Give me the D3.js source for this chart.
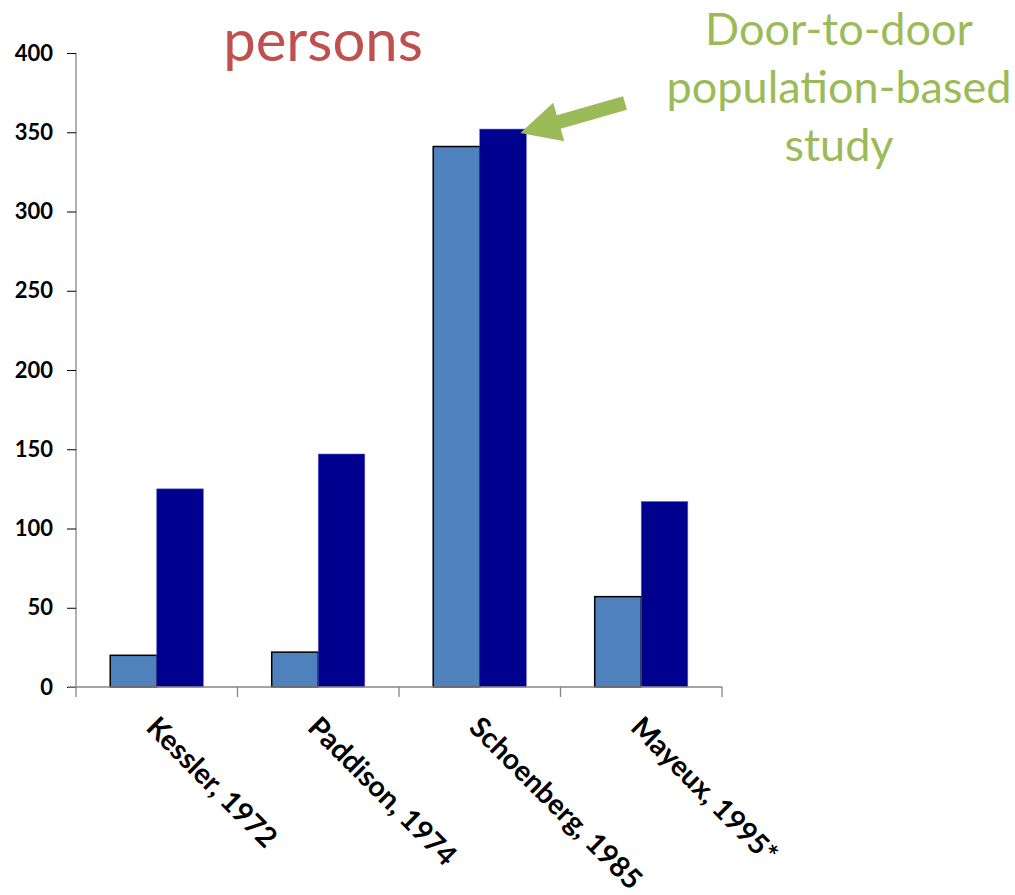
<!DOCTYPE html>
<html>
<head>
<meta charset="utf-8">
<script src="https://cdn.jsdelivr.net/npm/d3@7"></script>
<style>
  body { margin: 0; background: #fff; }
  svg { display: block; }
</style>
</head>
<body>
<svg id="chart"></svg>
<script>
// data
const categories = ["Kessler, 1972", "Paddison, 1974", "Schoenberg, 1985", "Mayeux, 1995*"];
const series_a = [20, 22, 341, 57];
const series_b = [125, 147, 352, 117];
const y_ticks = [0, 50, 100, 150, 200, 250, 300, 350, 400];

var width = 1015,
  height = 895;

var left = 76,
  right = 722,
  top_y = 53,
  bottom_y = 687;

const light_col = "#4f81bd",
  dark_col = "#00008f",
  axis_col = "#868686",
  title_col = "#c0504d",
  note_col = "#9bbb59";

const font = "Lato, 'Open Sans', sans-serif";

var svg = d3.select("#chart").attr("width", width).attr("height", height);

var xScale = d3.scaleBand().domain(categories).range([left, right]).paddingInner(0).paddingOuter(0);
var inner = d3.scaleBand().domain(["a", "b"]).range([0, xScale.bandwidth()]).paddingInner(0).paddingOuter(0.735);
var yScale = d3.scaleLinear().domain([0, 400]).range([bottom_y, top_y]);

// bars
var groups = svg
  .selectAll("g.cat")
  .data(categories)
  .enter()
  .append("g")
  .attr("class", "cat")
  .attr("transform", function (d) {
    return "translate(" + xScale(d) + ",0)";
  });

groups
  .append("rect")
  .attr("x", inner("a"))
  .attr("y", function (d, i) {
    return yScale(series_a[i]);
  })
  .attr("width", inner.bandwidth())
  .attr("height", function (d, i) {
    return bottom_y - yScale(series_a[i]);
  })
  .style("fill", light_col)
  .style("stroke", "#000")
  .style("stroke-width", 1.5);

groups
  .append("rect")
  .attr("x", inner("b"))
  .attr("y", function (d, i) {
    return yScale(series_b[i]);
  })
  .attr("width", inner.bandwidth())
  .attr("height", function (d, i) {
    return bottom_y - yScale(series_b[i]);
  })
  .style("fill", dark_col)
  .style("stroke", "#5a5ad0")
  .style("stroke-width", 0.6);

// y axis
var yAxis = svg
  .append("g")
  .attr("transform", "translate(" + left + ",0)")
  .call(d3.axisLeft(yScale).tickValues(y_ticks).tickSize(9).tickPadding(14));
yAxis.select(".domain").attr("d", "M0," + top_y + "V" + (bottom_y + 10)).attr("stroke", axis_col).attr("stroke-width", 1.3);
yAxis.selectAll(".tick line").attr("stroke", "#000").attr("stroke-width", 1);
yAxis
  .selectAll(".tick text")
  .attr("font-family", font)
  .attr("font-size", "22px")
  .attr("font-weight", "bold")
  .attr("fill", "#000");

// x axis
var xAxis = svg.append("g").attr("transform", "translate(0," + bottom_y + ")");
xAxis
  .append("line")
  .attr("x1", left - 8)
  .attr("x2", right)
  .attr("stroke", axis_col)
  .attr("stroke-width", 1.3);
xAxis
  .selectAll("line.sep")
  .data(categories.slice(1).concat(["end"]))
  .enter()
  .append("line")
  .attr("class", "sep")
  .attr("x1", function (d, i) {
    return left + (i + 1) * xScale.step();
  })
  .attr("x2", function (d, i) {
    return left + (i + 1) * xScale.step();
  })
  .attr("y1", 0)
  .attr("y2", 10)
  .attr("stroke", axis_col)
  .attr("stroke-width", 1.3);

svg
  .selectAll("text.cat_label")
  .data(categories)
  .enter()
  .append("text")
  .attr("class", "cat_label")
  .attr("transform", function (d) {
    var cx = xScale(d) + xScale.bandwidth() / 2 - 12;
    return "translate(" + cx + ",729) rotate(45)";
  })
  .attr("font-family", font)
  .attr("font-size", "28.5px")
  .attr("font-weight", "bold")
  .attr("fill", "#000")
  .text(function (d) {
    return d;
  });

// title
svg
  .append("text")
  .attr("x", 323)
  .attr("y", 61)
  .attr("text-anchor", "middle")
  .attr("font-family", font)
  .attr("font-size", "58px")
  .attr("fill", title_col)
  .text("persons");

// note
var note = svg
  .append("text")
  .attr("text-anchor", "middle")
  .attr("font-family", font)
  .attr("font-size", "45px")
  .attr("fill", note_col);
["Door-to-door", "population-based", "study"].forEach(function (t, i) {
  note.append("tspan").attr("x", 839).attr("y", 45 + i * 58).text(t);
});

// arrow pointing at the Schoenberg door-to-door bar
var tip = [xScale(categories[2]) + inner("b") + inner.bandwidth() - 6, yScale(series_b[2]) + 4];
var tail = [625, 103];
var ang = Math.atan2(tail[1] - tip[1], tail[0] - tip[0]);
var len = Math.hypot(tail[0] - tip[0], tail[1] - tip[1]);
var head_len = 40,
  head_w = 20,
  shaft_w = 7;
var pts = [
  [0, 0],
  [head_len, -head_w],
  [head_len, -shaft_w],
  [len, -shaft_w],
  [len, shaft_w],
  [head_len, shaft_w],
  [head_len, head_w],
];
svg
  .append("polygon")
  .attr("points", pts.map(function (p) {
    return p.join(",");
  }).join(" "))
  .attr("transform", "translate(" + tip[0] + "," + tip[1] + ") rotate(" + (ang * 180) / Math.PI + ")")
  .attr("fill", note_col);
</script>
</body>
</html>
